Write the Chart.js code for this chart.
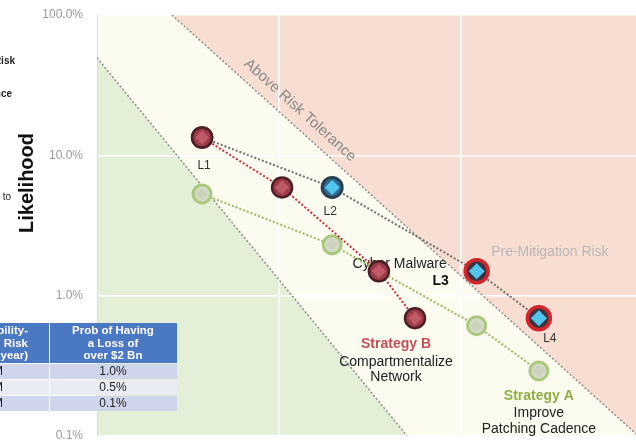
<!DOCTYPE html>
<html><head><meta charset="utf-8">
<script src="https://cdn.jsdelivr.net/npm/chart.js@4.4.1/dist/chart.umd.min.js"></script>
<style>html,body{margin:0;padding:0;background:#fff;overflow:hidden}canvas{display:block}</style>
</head><body>
<canvas id="c" width="636" height="443"></canvas>
<script>
// ---- data ----
const scenarioLabels = ['L1', 'L2', 'L3', 'L4'];
const impact = [3.78, 19.6, 122, 268];              // pre-mitigation impact (log axis, no labels shown)
const likelihoodPre = [13.4, 5.9, 1.49, 0.69];      // % per year
const likelihoodStratA = [5.3, 2.3, 0.61, 0.29];    // Strategy A lowers likelihood
const impactStratB = [3.78, 10.4, 35.4, 55.9];      // Strategy B lowers impact
const yTicks = [0.1, 1, 10, 100];
const xGridValues = [1, 10, 100];
const toleranceUpperX = [2.58, 942];
const toleranceUpperY = [100, 0.1];
const toleranceLowerX = [1, 50.5];
const toleranceLowerY = [49.5, 0.1];
const tableHeadRisk = ['Probability-', 'Weighted Annual Risk', '(per year)'];
const tableHeadProb = ['Prob of Having', 'a Loss of', 'over $2 Bn'];
const tableRisk = ['$20 M', '$10 M', '$2 M'];
const tableProb = ['1.0%', '0.5%', '0.1%'];

const pts = (xs, ys) => xs.map((v, i) => ({x: v, y: ys[i]}));
const FONT = '"Liberation Sans", Arial, sans-serif';

const textPlugin = {
  id: 'texts',
  beforeDatasetsDraw(chart) {
    const {ctx, scales: {x, y}} = chart;
    ctx.save();
    const t = (s, px, py, font, color, align) => {
      ctx.font = font; ctx.fillStyle = color; ctx.textAlign = align || 'center'; ctx.textBaseline = 'middle';
      ctx.fillText(s, px, py);
    };
    const P = i => [x.getPixelForValue(impact[i]), y.getPixelForValue(likelihoodPre[i])];
    let [x0, y0] = P(0); t(scenarioLabels[0], x0 + 2, y0 + 28, '12px ' + FONT, '#333');
    [x0, y0] = P(1); t(scenarioLabels[1], x0 - 2, y0 + 24, '12px ' + FONT, '#333');
    [x0, y0] = P(2);
    t('Cyber Malware', x0 - 77, y0 - 7, '14px ' + FONT, '#222');
    t(scenarioLabels[2], x0 - 36, y0 + 10, 'bold 14px ' + FONT, '#111');
    [x0, y0] = P(3);
    t(scenarioLabels[3], x0 + 11, y0 + 21, '12px ' + FONT, '#333');
    t('Pre-Mitigation Risk', x0 + 11, y0 - 66, '14px ' + FONT, '#b8b8b8');
    // Strategy B
    const bx = x.getPixelForValue(impactStratB[3]), by = y.getPixelForValue(likelihoodPre[3]);
    t('Strategy B', bx - 19, by + 26, 'bold 14px ' + FONT, '#c0505a');
    t('Compartmentalize', bx - 19, by + 44, '14px ' + FONT, '#222');
    t('Network', bx - 19, by + 59, '14px ' + FONT, '#222');
    // Strategy A
    const ax = x.getPixelForValue(impact[3]), ay = y.getPixelForValue(likelihoodStratA[3]);
    t('Strategy A', ax, ay + 25, 'bold 14px ' + FONT, '#8fae45');
    t('Improve', ax, ay + 42, '14px ' + FONT, '#222');
    t('Patching Cadence', ax, ay + 58, '14px ' + FONT, '#222');
    // Above Risk Tolerance, along upper boundary
    const p1x = x.getPixelForValue(toleranceUpperX[0]), p1y = y.getPixelForValue(toleranceUpperY[0]);
    const p2x = x.getPixelForValue(toleranceUpperX[1]), p2y = y.getPixelForValue(toleranceUpperY[1]);
    const ang = Math.atan2(p2y - p1y, p2x - p1x);
    const f = 0.253;
    const cx = p1x + (p2x - p1x) * f + Math.sin(ang) * 15;
    const cy = p1y + (p2y - p1y) * f - Math.cos(ang) * 15;
    ctx.translate(cx, cy); ctx.rotate(ang);
    t('Above Risk Tolerance', 0, 0, '15px ' + FONT, '#8a8a8a');
    ctx.restore();
  },
  afterDraw(chart) {
    const {ctx} = chart;
    ctx.save();
    const t = (s, px, py, font, color, align) => {
      ctx.font = font; ctx.fillStyle = color; ctx.textAlign = align || 'center'; ctx.textBaseline = 'middle';
      ctx.fillText(s, px, py);
    };
    // y axis title
    ctx.save();
    ctx.translate(27, 183); ctx.rotate(-Math.PI / 2);
    t('Likelihood', 0, 0, 'bold 20px ' + FONT, '#111');
    ctx.restore();
    // cropped side legend fragments
    t('Risk', 15, 61, 'bold 10px ' + FONT, '#222', 'right');
    t('Tolerance', 12, 94, 'bold 10px ' + FONT, '#222', 'right');
    t('Reduce to', 11, 197, '10px ' + FONT, '#222', 'right');
    // table
    const L = -80, C = 49, R = 177, hT = 323, hB = 363;
    ctx.fillStyle = '#4a78c2';
    ctx.fillRect(L, hT, R - L, hB - hT);
    const rowTops = [364, 380, 396], rowH = 15;
    const rowCol = ['#cfd5ea', '#e9ebf5', '#cfd5ea'];
    rowTops.forEach((top, i) => { ctx.fillStyle = rowCol[i]; ctx.fillRect(L, top, R - L, rowH); });
    ctx.strokeStyle = '#ffffff'; ctx.lineWidth = 1;
    ctx.beginPath(); ctx.moveTo(C + 0.5, hT); ctx.lineTo(C + 0.5, 411); ctx.stroke();
    tableHeadRisk.forEach((s, i) => t(s, 28, 331 + i * 12.5, 'bold 11.5px ' + FONT, '#fff', 'right'));
    tableHeadProb.forEach((s, i) => t(s, (C + R) / 2, 331 + i * 12.5, 'bold 11.5px ' + FONT, '#fff'));
    rowTops.forEach((top, i) => {
      t(tableRisk[i], 3, top + rowH / 2 + 0.5, '12px ' + FONT, '#222', 'right');
      t(tableProb[i], (C + R) / 2, top + rowH / 2 + 0.5, '12px ' + FONT, '#222');
    });
    ctx.restore();
  }
};

new Chart(document.getElementById('c'), {
  type: 'line',
  data: {
    datasets: [
      { label: 'bg', data: pts([1, 1000], [100, 100]), fill: 'start', backgroundColor: '#fbfbef',
        borderWidth: 0, pointRadius: 0, order: 100 },
      { label: 'Above tolerance', data: pts(toleranceUpperX, toleranceUpperY), fill: 'end', backgroundColor: '#f8ddd3',
        borderColor: '#8d8d8d', borderWidth: 1.5, borderDash: [2, 2], pointRadius: 0, order: 50 },
      { label: 'Below tolerance', data: pts(toleranceLowerX, toleranceLowerY), fill: 'start', backgroundColor: '#e3efd7',
        borderColor: '#8d8d8d', borderWidth: 1.5, borderDash: [2, 2], pointRadius: 0, order: 50 },
      { label: 'Strategy A', data: pts(impact, likelihoodStratA), borderColor: '#9ab85c', borderWidth: 2, borderDash: [2, 2],
        pointRadius: 9, pointBorderWidth: 3, pointBorderColor: '#abc97e', pointBackgroundColor: '#d4dac6', order: 10 },
      { label: 'Strategy A marks', data: pts(impact, likelihoodStratA), showLine: false, pointStyle: 'rectRot',
        pointRadius: 6, pointBorderWidth: 0, pointBackgroundColor: '#cbd2bc', order: 9 },
      { label: 'Pre-Mitigation', data: pts(impact, likelihoodPre), borderColor: '#6e6e6e', borderWidth: 2, borderDash: [2, 2],
        pointRadius: [10, 10, 11.5, 11.5], pointBorderWidth: [2.5, 3, 3.5, 3.5],
        pointBorderColor: ['#4b1f25', '#2b3f52', '#d3262b', '#d3262b'],
        pointBackgroundColor: ['#9e3c4a', '#2f6f93', '#3b3440', '#3b3440'], order: 8 },
      { label: 'Pre-Mitigation marks', data: pts(impact, likelihoodPre), showLine: false, pointStyle: 'rectRot',
        pointRadius: [0, 7.5, 8, 8], pointBorderWidth: 0, pointBackgroundColor: '#52c4ee', order: 7 },
      { label: 'Strategy B', data: pts(impactStratB, likelihoodPre), borderColor: '#c8303c', borderWidth: 2, borderDash: [2, 2],
        pointRadius: 10, pointBorderWidth: 2.5, pointBorderColor: '#4b1f25', pointBackgroundColor: '#9e3c4a', order: 2 },
      { label: 'Strategy B marks', data: pts(impactStratB, likelihoodPre), showLine: false, pointStyle: 'rectRot',
        pointRadius: 7, pointBorderWidth: 0, pointBackgroundColor: '#c05a68', order: 1 }
    ]
  },
  options: {
    responsive: false, animation: false, events: [], devicePixelRatio: 1,
    layout: { autoPadding: false, padding: { top: 15, right: 0, bottom: 6, left: 0 } },
    plugins: { legend: { display: false }, tooltip: { enabled: false }, filler: { drawTime: 'beforeDraw' } },
    scales: {
      x: {
        type: 'logarithmic', min: 1, max: 916,
        afterBuildTicks: s => { s.ticks = xGridValues.map(v => ({value: v})); },
        afterFit: s => { s.height = 0; },
        ticks: { display: false },
        grid: { color: '#ffffff', lineWidth: 1.5, drawTicks: false },
        border: { display: false }
      },
      y: {
        type: 'logarithmic', min: 0.1, max: 100,
        afterBuildTicks: s => { s.ticks = yTicks.map(v => ({value: v})); },
        afterFit: s => { s.width = 97; },
        ticks: { padding: 0, color: '#9a9a9a', font: { family: FONT, size: 12 },
                 callback: v => Number(v).toFixed(1) + '%' },
        grid: { color: '#ffffff', lineWidth: 1.5, drawTicks: true, tickLength: 14, tickColor: 'rgba(0,0,0,0)' },
        border: { display: true, color: '#dcdcdc', width: 1 }
      }
    }
  },
  plugins: [textPlugin]
});
</script>
</body></html>
